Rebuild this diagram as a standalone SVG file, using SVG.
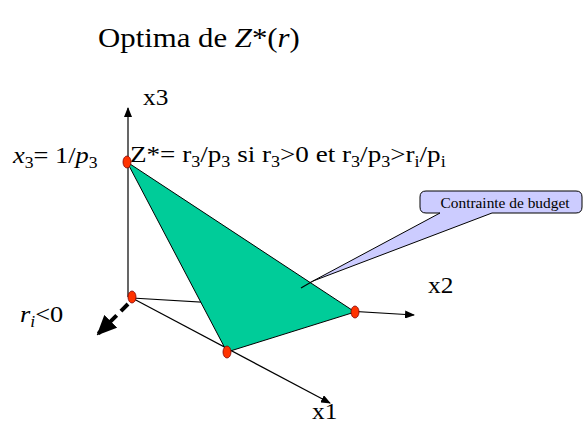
<svg xmlns="http://www.w3.org/2000/svg" width="584" height="421" viewBox="0 0 584 421">
<style>
.t{font-family:'Liberation Serif','DejaVu Serif',serif;fill:#000}
.ax{stroke:#000;stroke-width:1.2;fill:none}
.pt{fill:#FF3300;stroke:#800000;stroke-width:0.8}
</style>
<defs>
<marker id="ah" markerWidth="10" markerHeight="8" refX="9" refY="4" orient="auto" markerUnits="userSpaceOnUse"><path d="M0,0 L10,4 L0,8 Z" fill="#000"/></marker>
<marker id="bh" markerWidth="20" markerHeight="18" refX="18" refY="9" orient="auto" markerUnits="userSpaceOnUse"><path d="M0,0 L20,9 L0,18 Z" fill="#000"/></marker>
</defs>
<g transform="translate(98,47) scale(1.1,1)"><text class="t" x="0" y="0" font-size="28">Optima de <tspan font-style="italic">Z</tspan>*(<tspan font-style="italic">r</tspan>)</text></g>
<g id="connectors">
<line class="ax" x1="128" y1="297" x2="128" y2="108" marker-end="url(#ah)"/>
<line class="ax" x1="132" y1="298" x2="414" y2="315" marker-end="url(#ah)"/>
<line class="ax" x1="132" y1="298" x2="330" y2="403" marker-end="url(#ah)"/>
<line x1="128" y1="304" x2="98" y2="334" stroke="#000" stroke-width="4" stroke-dasharray="10,6" marker-end="url(#bh)"/>
</g>
<g id="triangle">
<polygon points="127,162 355,312 227,352" fill="#00CC99" stroke="#000" stroke-width="1"/>
</g>
<g id="callout">
<path d="M426,191 H576 Q582,191 582,197 V207 Q582,213 576,213 H492 L313,281 L440,213 H426 Q420,213 420,207 V197 Q420,191 426,191 Z" fill="#CCCCFF" stroke="#000" stroke-width="1"/>
<line x1="301" y1="288" x2="313" y2="281" stroke="#000" stroke-width="1.2"/>
<g transform="translate(505,208) scale(1.1,1)"><text class="t" x="0" y="0" font-size="14" text-anchor="middle">Contrainte de budget</text></g>
</g>
<g id="points">
<ellipse id="p-apex" class="pt" cx="127" cy="162" rx="4" ry="6"/>
<ellipse id="p-origin" class="pt" cx="132" cy="297" rx="4" ry="6"/>
<ellipse id="p-x1" class="pt" cx="227" cy="352" rx="4" ry="6"/>
<ellipse id="p-x2" class="pt" cx="355" cy="312" rx="4" ry="6"/>
</g>
<g id="labels">
<g transform="translate(143,105) scale(1.1,1)"><text class="t" font-size="23">x3</text></g>
<g transform="translate(428,293) scale(1.1,1)"><text class="t" font-size="23">x2</text></g>
<g transform="translate(312,419) scale(1.1,1)"><text class="t" font-size="23">x1</text></g>
<g transform="translate(13,163) scale(1.1,1)"><text class="t" font-size="24"><tspan font-style="italic">x</tspan><tspan font-size="16" dy="5">3</tspan><tspan dy="-5">= 1/</tspan><tspan font-style="italic">p</tspan><tspan font-size="16" dy="5">3</tspan></text></g>
<g transform="translate(130,162) scale(1.13,1)"><text class="t" font-size="24">Z*= r<tspan font-size="16" dy="5">3</tspan><tspan dy="-5">/p</tspan><tspan font-size="16" dy="5">3</tspan><tspan dy="-5"> si r</tspan><tspan font-size="16" dy="5">3</tspan><tspan dy="-5">&gt;0 et r</tspan><tspan font-size="16" dy="5">3</tspan><tspan dy="-5">/p</tspan><tspan font-size="16" dy="5">3</tspan><tspan dy="-5">&gt;r</tspan><tspan font-size="16" dy="5">i</tspan><tspan dy="-5">/p</tspan><tspan font-size="16" dy="5">i</tspan></text></g>
<g transform="translate(20,322) scale(1.1,1)"><text class="t" font-size="24"><tspan font-style="italic">r</tspan><tspan font-style="italic" font-size="16" dy="5">i</tspan><tspan dy="-5">&lt;0</tspan></text></g>
</g>
</svg>
